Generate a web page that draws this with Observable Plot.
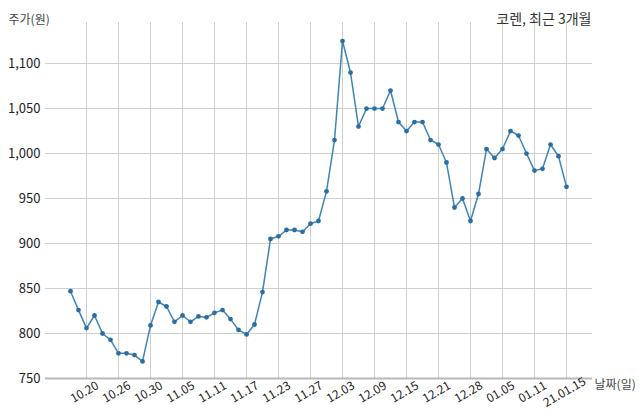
<!DOCTYPE html>
<html>
<head>
<meta charset="utf-8">
<script src="https://cdn.jsdelivr.net/npm/d3@7"></script>
<script src="https://cdn.jsdelivr.net/npm/@observablehq/plot@0.6"></script>
<style>
  html, body { margin: 0; padding: 0; background: #fff; }
  #chart svg { display: block; }
</style>
</head>
<body>
<div id="chart"></div>
<script>
const dates = ["10.16","10.19","10.20","10.21","10.22","10.23","10.26","10.27","10.28","10.29","10.30",
  "11.02","11.03","11.04","11.05","11.06","11.09","11.10","11.11","11.12","11.13",
  "11.16","11.17","11.18","11.19","11.20","11.23","11.24","11.25","11.26","11.27",
  "11.30","12.01","12.02","12.03","12.04","12.07","12.08","12.09","12.10","12.11",
  "12.14","12.15","12.16","12.17","12.18","12.21","12.22","12.23","12.24",
  "12.28","12.29","12.30","01.04","01.05","01.06","01.07","01.08",
  "01.11","01.12","01.13","01.14","01.15"];
const prices = [847, 826, 806, 820, 800, 793, 778, 778, 776, 769, 809,
  835, 830, 813, 820, 813, 819, 818, 823, 826, 816,
  804, 799, 810, 846, 905, 908, 915, 915, 913, 922,
  925, 958, 1015, 1125, 1090, 1030, 1050, 1050, 1050, 1070,
  1035, 1025, 1035, 1035, 1015, 1010, 990, 940, 950,
  925, 955, 1005, 995, 1005, 1025, 1020, 1000,
  981, 983, 1010, 997, 963];
const tickDates = ["10.20","10.26","10.30","11.05","11.11","11.17","11.23","11.27",
  "12.03","12.09","12.15","12.21","12.28","01.05","01.11","01.15"];
const tickLabels = ["10.20","10.26","10.30","11.05","11.11","11.17","11.23","11.27",
  "12.03","12.09","12.15","12.21","12.28","01.05","01.11","21.01.15"];
const yTicks = [750, 800, 850, 900, 950, 1000, 1050, 1100];
const title = "코렌, 최근 3개월";
const yLabel = "주가(원)";
const xLabel = "날짜(일)";

const data = dates.map((d, i) => ({date: d, i, price: prices[i]}));
const ticks = tickDates.map((d, k) => ({i: dates.indexOf(d), label: tickLabels[k]}));

const font = "'Noto Sans CJK KR', 'Noto Sans', sans-serif";

const chart = Plot.plot({
  width: 640,
  height: 419,
  marginTop: 22,
  marginBottom: 41,
  marginLeft: 45,
  marginRight: 48,
  style: {fontFamily: font, background: "#fff"},
  x: {domain: [-3.125, 65.25], axis: null},
  y: {domain: [750, 1145.6], axis: null},
  marks: [
    Plot.ruleY(yTicks.filter(v => v > 750), {stroke: "#cfcfcf", strokeWidth: 1}),
    Plot.ruleX(ticks, {x: "i", stroke: "#cfcfcf", strokeWidth: 1}),
    Plot.ruleY([750], {stroke: "#b8b8b8", strokeWidth: 2}),
    Plot.axisY({ticks: yTicks, tickSize: 0, tickPadding: 5, tickFormat: d3.format(","), fontSize: 13, fill: "#222", label: null}),
    Plot.text(ticks, {x: "i", text: "label", frameAnchor: "bottom", dy: 17, rotate: -30, textAnchor: "middle", fontSize: 12, fill: "#222"}),
    Plot.line(data, {x: "i", y: "price", stroke: "#3d84b8", strokeWidth: 1.5}),
    Plot.dot(data, {x: "i", y: "price", r: 2.4, fill: "#2b6ea3", stroke: "none"}),
    Plot.text([yLabel], {frameAnchor: "top-left", dx: -37, dy: -7, textAnchor: "start", fontSize: 12, fill: "#444"}),
    Plot.text([title], {frameAnchor: "top-right", dx: -1, dy: -8, textAnchor: "end", fontSize: 14, fill: "#333"}),
    Plot.text([xLabel], {frameAnchor: "bottom-right", dx: 2, dy: 10, textAnchor: "start", fontSize: 12, fill: "#444"})
  ]
});
document.getElementById("chart").appendChild(chart);
</script>
</body>
</html>
